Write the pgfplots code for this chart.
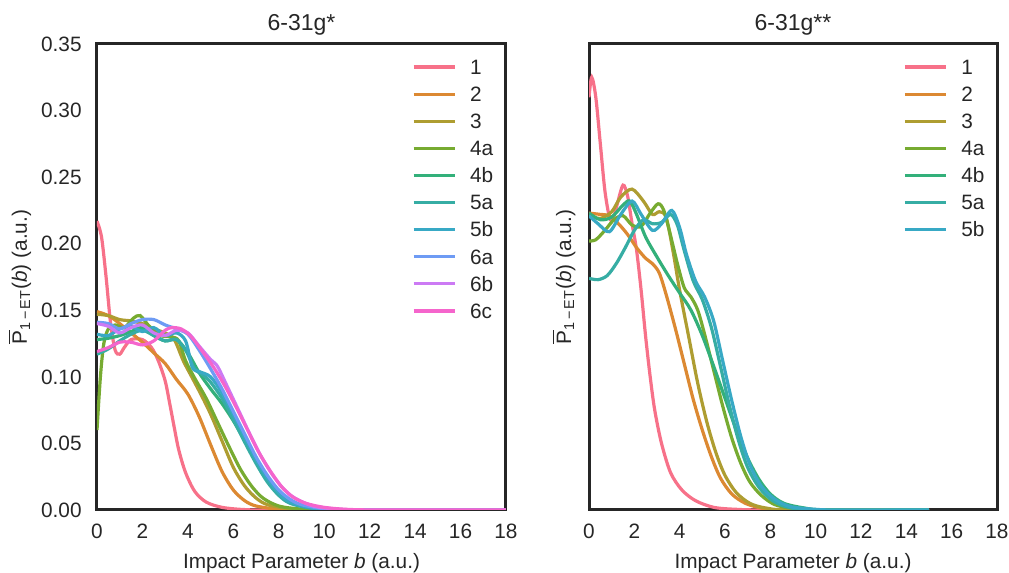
\documentclass[border=0pt]{standalone}
\usepackage{fontspec}
\setmainfont{Liberation Sans}
\usepackage{pgfplots}
\pgfplotsset{compat=1.18}
\definecolor{c1}{HTML}{F77189}
\definecolor{c2}{HTML}{DC8932}
\definecolor{c3}{HTML}{AE9D31}
\definecolor{c4}{HTML}{77AB31}
\definecolor{c5}{HTML}{33B07A}
\definecolor{c6}{HTML}{36ADA4}
\definecolor{c7}{HTML}{38A9C5}
\definecolor{c8}{HTML}{6E9BF4}
\definecolor{c9}{HTML}{CC7AF4}
\definecolor{c10}{HTML}{F565CC}
\definecolor{frame}{HTML}{262626}
\newcommand\fs{\fontsize{10.4}{12}\selectfont}
\newcommand\ts{\fontsize{11.5}{13}\selectfont}
\newcommand\ylab{$\overline{\hbox{P}}_{\hbox{\fontsize{7.2}{8}\selectfont 1\,−\,ET}}$(\textit{b}) (a.u.)}

\pgfplotsset{panel/.style={
  scale only axis, height=233pt,
  ymin=0, ymax=0.35, xmin=0, xmax=18,
  xtick={0,2,4,6,8,10,12,14,16,18},
  ytick={0,0.05,0.1,0.15,0.2,0.25,0.3,0.35},
  major tick length=0pt,
  axis line style={frame, line width=1.5pt},
  tick label style={font=\fs, text=frame},
  /pgf/number format/assume math mode=true,
  yticklabel style={/pgf/number format/fixed, /pgf/number format/fixed zerofill, /pgf/number format/precision=2},
  xticklabel style={anchor=base, yshift=-14.5pt},
  yticklabel style={anchor=east, inner sep=0pt, xshift=-7.5pt},
  title style={font=\ts, text=frame, at={(axis description cs:0.5,1)}, anchor=base, inner sep=0pt, yshift=0.8pt},
  xlabel={Impact Parameter \textit{b} (a.u.)},
  xlabel style={font=\fs, text=frame, at={(axis description cs:0.5,0)}, anchor=base, inner sep=0pt, yshift=-29.5pt},
  ylabel={\ylab},
  ylabel style={font=\fs, text=frame, at={(axis description cs:0,0.5)}, anchor=center, inner sep=0pt},
  no markers,
  every axis plot/.append style={line width=1.6pt, smooth, tension=0.5},
  legend image code/.code={\draw[#1] (0pt,0pt) -- (20.5pt,0pt);},
  legend cell align=left,
  legend style={draw=none, fill=none, at={(0.769,0.967)}, anchor=north west,
    inner sep=0pt, row sep=6.25pt, column sep=7pt,
    nodes={inner sep=0pt, text height=7.3pt, text depth=0pt, font=\fs, text=frame}},
}}

\begin{document}
\begin{tikzpicture}
\begin{axis}[panel, at={(0,0)}, anchor=south west, width=204.5pt,
  title={6-31g*}, ylabel style={yshift=38.5pt}]
\addplot[c1] coordinates {(0,0.217)(0.2,0.205)(0.4,0.175)(0.6,0.14)(0.8,0.12)(1.0,0.117)(1.2,0.122)(1.5,0.128)(2.0,0.128)(2.4,0.122)(2.7,0.112)(3.0,0.097)(3.2,0.080)(3.4,0.062)(3.6,0.045)(3.9,0.028)(4.3,0.014)(4.8,0.006)(5.5,0.002)(6.5,0.0003)(8,0)(18,0)};
\addplot[c2] coordinates {(0,0.149)(0.5,0.146)(1,0.140)(1.5,0.133)(2.0,0.126)(2.5,0.118)(3.0,0.110)(3.5,0.098)(4.0,0.087)(4.5,0.070)(5.0,0.049)(5.5,0.029)(6.0,0.015)(6.5,0.007)(7,0.003)(8,0.0005)(9,0)(18,0)};
\addplot[c3] coordinates {(0,0.147)(0.5,0.146)(1,0.143)(1.5,0.142)(2,0.140)(2.5,0.136)(3,0.133)(3.4,0.128)(3.8,0.112)(4.2,0.099)(4.6,0.086)(5.0,0.072)(5.5,0.052)(6.0,0.032)(6.5,0.018)(7.0,0.009)(7.5,0.004)(8.5,0.001)(10,0)(18,0)};
\addplot[c4] coordinates {(0,0.06)(0.15,0.10)(0.3,0.125)(0.5,0.136)(0.8,0.139)(1.2,0.137)(1.6,0.144)(1.9,0.146)(2.3,0.138)(2.8,0.131)(3.3,0.130)(3.6,0.127)(3.9,0.112)(4.3,0.099)(4.8,0.084)(5.3,0.066)(5.8,0.048)(6.3,0.031)(6.8,0.018)(7.3,0.009)(8,0.003)(9,0.0007)(10.5,0)(18,0)};
\addplot[c5] coordinates {(0,0.128)(0.5,0.129)(1,0.131)(1.5,0.134)(2,0.137)(2.5,0.131)(3,0.127)(3.5,0.128)(4,0.118)(4.5,0.103)(5.0,0.091)(5.5,0.080)(6.0,0.067)(6.5,0.052)(7.0,0.037)(7.5,0.023)(8,0.013)(8.5,0.006)(9.5,0.0015)(11,0)(18,0)};
\addplot[c6] coordinates {(0,0.117)(0.5,0.121)(1,0.127)(1.5,0.132)(2,0.135)(2.5,0.131)(3,0.127)(3.5,0.128)(3.9,0.120)(4.3,0.106)(4.7,0.101)(5.0,0.096)(5.5,0.084)(6,0.068)(6.5,0.051)(7,0.035)(7.5,0.021)(8,0.011)(8.5,0.005)(9.5,0.0012)(11,0)(18,0)};
\addplot[c7] coordinates {(0,0.132)(0.5,0.131)(1,0.136)(1.5,0.138)(2,0.134)(2.5,0.137)(3,0.131)(3.5,0.133)(3.9,0.127)(4.2,0.107)(4.5,0.104)(5.0,0.100)(5.5,0.088)(6.0,0.072)(6.5,0.055)(7.0,0.038)(7.5,0.024)(8,0.013)(8.5,0.006)(9.5,0.0015)(11,0)(18,0)};
\addplot[c8] coordinates {(0,0.141)(0.5,0.140)(1,0.136)(1.5,0.140)(2,0.143)(2.5,0.143)(3,0.139)(3.5,0.136)(4,0.132)(4.5,0.120)(5,0.106)(5.5,0.091)(6,0.074)(6.5,0.057)(7,0.040)(7.5,0.026)(8,0.015)(8.5,0.008)(9,0.004)(10,0.001)(11.5,0)(18,0)};
\addplot[c9] coordinates {(0,0.140)(0.5,0.138)(1,0.133)(1.5,0.137)(2,0.139)(2.5,0.133)(3,0.131)(3.5,0.135)(4,0.133)(4.5,0.123)(5.0,0.113)(5.3,0.108)(5.7,0.094)(6.2,0.076)(6.7,0.058)(7.2,0.041)(7.7,0.027)(8.2,0.016)(8.7,0.009)(9.5,0.003)(10.5,0.0008)(12,0)(18,0)};
\addplot[c10] coordinates {(0,0.119)(0.5,0.122)(1,0.126)(1.5,0.126)(2,0.124)(2.5,0.127)(3,0.135)(3.3,0.137)(3.7,0.136)(4.1,0.131)(4.6,0.120)(5.1,0.108)(5.6,0.094)(6.1,0.078)(6.6,0.061)(7.1,0.044)(7.6,0.030)(8.1,0.018)(8.6,0.010)(9.2,0.005)(10,0.002)(11,0.0005)(12.5,0)(18,0)};
\legend{1,2,3,4a,4b,5a,5b,6a,6b,6c}
\end{axis}
\begin{axis}[panel, at={(246pt,0)}, anchor=south west, width=204pt,
  title={6-31g**}, yticklabels={}, ylabel style={yshift=12.5pt}]
\addplot[c1] coordinates {(0,0.310)(0.12,0.325)(0.3,0.310)(0.5,0.275)(0.7,0.240)(0.9,0.220)(1.05,0.218)(1.25,0.230)(1.5,0.244)(1.7,0.236)(1.9,0.215)(2.1,0.195)(2.3,0.165)(2.5,0.130)(2.7,0.100)(2.9,0.075)(3.2,0.050)(3.6,0.028)(4.1,0.015)(4.7,0.007)(5.5,0.002)(6.5,0.0005)(8,0)(15,0)};
\addplot[c2] coordinates {(0,0.223)(0.5,0.222)(0.9,0.221)(1.3,0.215)(1.7,0.207)(2.1,0.197)(2.5,0.189)(2.8,0.185)(3.1,0.178)(3.4,0.162)(3.8,0.137)(4.2,0.110)(4.6,0.083)(5.0,0.060)(5.4,0.040)(5.8,0.024)(6.3,0.012)(6.9,0.005)(7.6,0.0015)(8.5,0)(15,0)};
\addplot[c3] coordinates {(0,0.221)(0.5,0.219)(1.0,0.224)(1.4,0.235)(1.9,0.241)(2.4,0.232)(2.8,0.222)(3.1,0.224)(3.4,0.220)(3.7,0.195)(4.0,0.165)(4.4,0.130)(4.8,0.095)(5.2,0.066)(5.6,0.043)(6.0,0.026)(6.5,0.013)(7.1,0.005)(7.8,0.0015)(9,0)(15,0)};
\addplot[c4] coordinates {(0,0.202)(0.3,0.203)(0.7,0.210)(1.1,0.218)(1.5,0.221)(1.9,0.214)(2.3,0.213)(2.7,0.223)(3.05,0.230)(3.3,0.225)(3.6,0.206)(3.9,0.185)(4.2,0.167)(4.5,0.160)(4.8,0.150)(5.1,0.132)(5.5,0.105)(5.9,0.078)(6.3,0.054)(6.7,0.035)(7.1,0.021)(7.6,0.011)(8.2,0.004)(9,0.0012)(10,0)(15,0)};
\addplot[c5] coordinates {(0,0.223)(0.5,0.218)(1.0,0.220)(1.5,0.229)(1.8,0.232)(2.1,0.222)(2.5,0.205)(3.0,0.190)(3.5,0.176)(4.0,0.163)(4.5,0.150)(5.0,0.131)(5.5,0.108)(6.0,0.084)(6.5,0.060)(7.0,0.039)(7.5,0.023)(8.0,0.012)(8.6,0.005)(9.5,0.0015)(10.5,0)(15,0)};
\addplot[c6] coordinates {(0,0.174)(0.4,0.173)(0.8,0.176)(1.2,0.185)(1.6,0.197)(2.0,0.210)(2.4,0.218)(2.8,0.215)(3.2,0.216)(3.6,0.222)(3.9,0.214)(4.2,0.195)(4.6,0.172)(5.0,0.158)(5.4,0.137)(5.8,0.108)(6.2,0.078)(6.6,0.052)(7.0,0.032)(7.5,0.017)(8.1,0.007)(8.8,0.002)(10,0)(15,0)};
\addplot[c7] coordinates {(0,0.221)(0.4,0.215)(0.9,0.209)(1.4,0.222)(1.9,0.232)(2.3,0.222)(2.8,0.210)(3.2,0.215)(3.65,0.225)(4.0,0.212)(4.3,0.192)(4.7,0.172)(5.1,0.160)(5.5,0.142)(5.9,0.112)(6.3,0.082)(6.7,0.055)(7.1,0.034)(7.6,0.018)(8.2,0.008)(8.9,0.0025)(10,0.0005)(11,0)(15,0)};
\legend{1,2,3,4a,4b,5a,5b}
\end{axis}
\pgfresetboundingbox
\path[use as bounding box] (-48.5pt,-31.5pt) rectangle (456pt,255pt);
\end{tikzpicture}
\end{document}
